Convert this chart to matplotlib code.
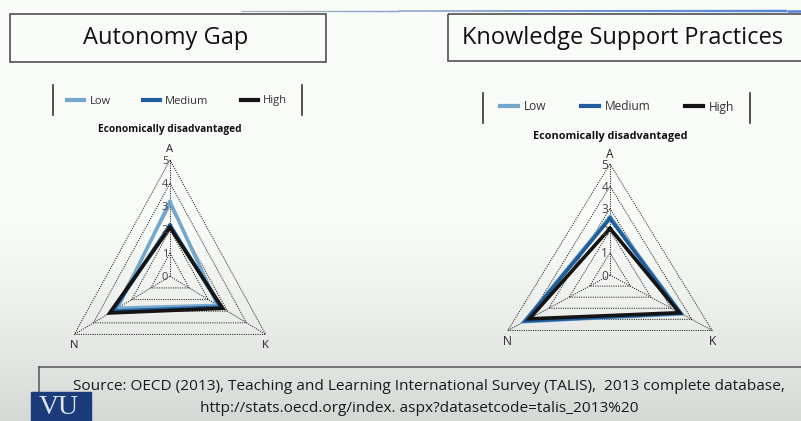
import matplotlib
matplotlib.use("Agg")
import matplotlib.pyplot as plt
import numpy as np
from matplotlib.lines import Line2D
from matplotlib.patches import Rectangle

W, H = 801, 421

# radar data, axes order A (top), K (bottom right), N (bottom left)
spokes = ['A', 'K', 'N']
levels = [0, 1, 2, 3, 4, 5]
series_names = ['Low', 'Medium', 'High']
series_colors = ['#74a7cd', '#1f5d9c', '#141414']

autonomy_low = [3.2, 2.5, 2.75]
autonomy_medium = [2.2, 2.65, 3.0]
autonomy_high = [2.1, 2.75, 3.15]

knowledge_low = [2.62, 3.5, 4.2]
knowledge_medium = [2.55, 3.45, 4.15]
knowledge_high = [2.1, 3.4, 3.95]

panel_titles = ['Autonomy Gap', 'Knowledge Support Practices']
chart_title = 'Economically disadvantaged'
source_lines = ['Source: OECD (2013), Teaching and Learning International Survey (TALIS),  2013 complete database,',
                'http://stats.oecd.org/index. aspx?datasetcode=talis_2013%20']

FONT = 'Open Sans'
angles = np.deg2rad([90, -30, 210])


def fx(x):
    return x / W


def fy(y):
    return 1 - y / H


fig = plt.figure(figsize=(W / 100, H / 100), dpi=100)

# slide background, white fading to grey at the bottom
bg = fig.add_axes([0, 0, 1, 1], zorder=-10)
rows = np.arange(H)
t = np.clip((rows - 215) / (H - 215), 0, 1) ** 1.3
top_c = np.array([0.978, 0.986, 0.975])
bot_c = np.array([0.835, 0.85, 0.835])
grad = top_c[None, :] * (1 - t[:, None]) + bot_c[None, :] * t[:, None]
bg.imshow(grad[:, None, :], aspect='auto', extent=[0, W, H, 0])
bg.set_xlim(0, W)
bg.set_ylim(H, 0)
bg.axis('off')

# thin rule at the very top
xs = np.linspace(241, W, 40)
for i in range(len(xs) - 1):
    f = i / (len(xs) - 2)
    col = (0.62 - 0.3 * f, 0.69 - 0.17 * f, 0.78 + 0.06 * f)
    bg.plot(xs[i:i + 2], [11, 11], color=col, lw=0.8 + 1.0 * f, solid_capstyle='butt')

# title boxes
for (x0, x1, y0, y1), title, tx in zip([(10, 326, 14, 62), (448, 803, 14, 61)], panel_titles, [165.5, 623]):
    bg.add_patch(Rectangle((x0, y0), x1 - x0, y1 - y0, fill=False, ec='#505050', lw=1.2))
    bg.text(tx, 38.5, title, ha='center', va='center', fontsize=17, family=FONT, color='#111111')

# source box + text
bg.plot([39, 39], [421, 367], color='#555555', lw=1.1)
bg.plot([39, 801], [367, 367], color='#555555', lw=1.1)
bg.text(429, 386, source_lines[0], ha='center', va='center', fontsize=11.1, family=FONT, color='#1a1a1a')
bg.text(419, 408, source_lines[1], ha='center', va='center', fontsize=11.1, family=FONT, color='#1a1a1a')

# VU logo
bg.add_patch(Rectangle((31, 392), 60, 32, color='#1c3b7a', zorder=5))
bg.text(59, 407, 'VU', ha='center', va='center', fontsize=20, family='Liberation Serif',
        color='#dfe6f2', zorder=6)


def radar(cx, cy, sx, sy, data, legend_xy, legend_bars, title_y, fs):
    left = cx - 6 * sx
    right = cx + 6 * sx
    top = cy - 7 * sy
    bottom = cy + 4 * sy
    ax = fig.add_axes([fx(left), fy(bottom), fx(right - left), (bottom - top) / H])
    ax.set_xlim(-6, 6)
    ax.set_ylim(-4, 7)
    ax.axis('off')

    # dotted grid triangles and spokes
    for lv in levels[1:]:
        gx = np.append(lv * np.cos(angles), lv * np.cos(angles[0]))
        gy = np.append(lv * np.sin(angles), lv * np.sin(angles[0]))
        ax.plot(gx, gy, color='#222222', lw=0.75, ls=(0, (1, 1.2)))
    for a in angles:
        ax.plot([0, levels[-1] * np.cos(a)], [0, levels[-1] * np.sin(a)],
                color='#222222', lw=0.75, ls=(0, (1, 1.2)))

    # series
    handles = []
    for vals, name, col in zip(data, series_names, series_colors):
        v = np.array(vals)
        px = np.append(v * np.cos(angles), v[0] * np.cos(angles[0]))
        py = np.append(v * np.sin(angles), v[0] * np.sin(angles[0]))
        ln, = ax.plot(px, py, color=col, lw=2.6, solid_joinstyle='miter', label=name)
        handles.append(ln)

    # level labels along the A spoke
    for lv in levels:
        ax.text(-0.08, lv - 0.05, str(lv), ha='right', va='center', fontsize=8 * fs,
                family=FONT, color='#444444')
    # spoke labels
    ax.text(0, levels[-1] + 0.45, spokes[0], ha='center', va='center', fontsize=8 * fs, family=FONT, color='#222222')
    for name, a in zip(spokes[1:], angles[1:]):
        ax.text(levels[-1] * np.cos(a), levels[-1] * np.sin(a) - 0.48, name, ha='center', va='center',
                fontsize=8 * fs, family=FONT, color='#222222')

    fig.text(fx(cx), fy(title_y), chart_title, ha='center', va='center', fontsize=7.3 * fs,
             family=FONT, weight='bold', color='#111111')

    leg = fig.legend(handles=handles, loc='center', bbox_to_anchor=(fx(legend_xy[0]), fy(legend_xy[1])),
                     ncol=3, frameon=False, handlelength=1.55, handletextpad=0.45, columnspacing=2.9,
                     prop={'family': FONT, 'size': 8 * fs})
    for lh in leg.get_lines():
        lh.set_linewidth(3)
    for t_ in leg.get_texts():
        t_.set_color('#333333')
    for bx in legend_bars[:2]:
        fig.add_artist(Line2D([fx(bx), fx(bx)], [fy(legend_bars[2]), fy(legend_bars[3])],
                              color='#333333', lw=1.2))
    return ax


radar(170, 276.3, 22.1, 23.27, [autonomy_low, autonomy_medium, autonomy_high],
      (177, 101), (53, 302, 85, 115), 130, 1.0)
radar(610, 275, 23.6, 22.2, [knowledge_low, knowledge_medium, knowledge_high],
      (617, 107), (483, 750, 93, 123), 136, 1.07)

fig.savefig('out.png', dpi=100)
